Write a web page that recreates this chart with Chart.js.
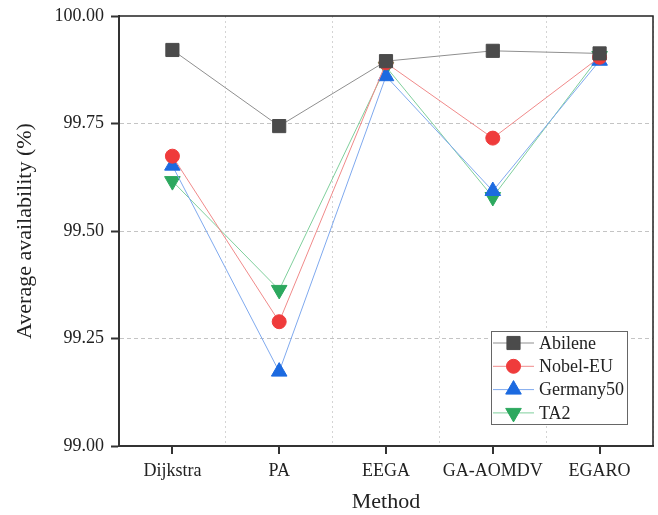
<!DOCTYPE html>
<html>
<head>
<meta charset="utf-8">
<script src="https://cdn.jsdelivr.net/npm/chart.js@4/dist/chart.umd.min.js"></script>
<style>
  html, body { margin: 0; padding: 0; background: #fff; }
  #wrap { width: 658px; height: 515px; }
</style>
</head>
<body>
<div id="wrap"><canvas id="grafico"></canvas></div>
<script>
// Datos
const metodos = ['Dijkstra', 'PA', 'EEGA', 'GA-AOMDV', 'EGARO'];
const abilene = [99.921, 99.744, 99.895, 99.919, 99.913];
const nobelEU = [99.674, 99.289, 99.891, 99.716, 99.904];
const germany50 = [99.652, 99.173, 99.860, 99.593, 99.896];
const ta2 = [99.616, 99.363, 99.882, 99.579, 99.907];
const ticksY = [99.00, 99.25, 99.50, 99.75, 100.00];

const fuente = '"Liberation Serif", "Times New Roman", serif';

// Marcas de eje X en el centro de cada categoría
const marcasX = {
  id: 'marcasX',
  afterDraw(chart) {
    const ctx = chart.ctx;
    const x = chart.scales.x;
    const area = chart.chartArea;
    ctx.save();
    ctx.strokeStyle = '#333';
    ctx.lineWidth = 2;
    metodos.forEach((m, i) => {
      const px = Math.round(x.getPixelForValue(i));
      ctx.beginPath();
      ctx.moveTo(px, area.bottom);
      ctx.lineTo(px, area.bottom + 8);
      ctx.stroke();
    });
    // marco superior y derecho
    ctx.strokeStyle = '#222';
    ctx.lineWidth = 1.5;
    ctx.beginPath();
    ctx.moveTo(area.left, area.top);
    ctx.lineTo(area.right, area.top);
    ctx.lineTo(area.right, area.bottom);
    ctx.stroke();
    ctx.restore();
  }
};

// Leyenda con línea y marcador
const leyenda = {
  id: 'leyenda',
  afterDraw(chart) {
    const ctx = chart.ctx;
    const caja = { x: 491, y: 331, w: 136, h: 93 };
    ctx.save();
    ctx.fillStyle = '#fff';
    ctx.fillRect(caja.x, caja.y, caja.w, caja.h);
    ctx.strokeStyle = '#666';
    ctx.lineWidth = 1;
    ctx.strokeRect(caja.x + 0.5, caja.y + 0.5, caja.w, caja.h);
    chart.data.datasets.forEach((ds, i) => {
      const cy = caja.y + 12 + i * 23.3;
      ctx.strokeStyle = ds.borderColor;
      ctx.lineWidth = 1;
      ctx.beginPath();
      ctx.moveTo(caja.x + 2, cy);
      ctx.lineTo(caja.x + 43, cy);
      ctx.stroke();
      ctx.fillStyle = ds.pointBackgroundColor;
      ctx.strokeStyle = ds.pointBorderColor;
      ctx.lineWidth = ds.pointBorderWidth;
      Chart.helpers.drawPoint(ctx, {
        pointStyle: ds.pointStyle,
        rotation: ds.pointRotation || 0,
        radius: ds.pointRadius,
        borderWidth: ds.pointBorderWidth
      }, caja.x + 22.5, cy);
      ctx.fillStyle = '#222';
      ctx.font = '18px ' + fuente;
      ctx.textBaseline = 'middle';
      ctx.fillText(ds.label, caja.x + 48, cy + 1);
    });
    ctx.restore();
  }
};

function serie(label, datos, linea, relleno, estilo, radio, rot) {
  return {
    label: label,
    data: datos,
    borderColor: linea,
    borderWidth: 1,
    pointBackgroundColor: relleno,
    pointBorderColor: relleno,
    pointBorderWidth: 1,
    pointStyle: estilo,
    pointRadius: radio,
    pointHoverRadius: radio,
    pointRotation: rot,
    tension: 0,
    clip: false
  };
}

const ctx = document.getElementById('grafico').getContext('2d');
new Chart(ctx, {
  type: 'line',
  data: {
    labels: metodos,
    datasets: [
      serie('Abilene', abilene, '#8f8f8f', '#4b4b4b', 'rect', 9.3, 0),
      serie('Nobel-EU', nobelEU, '#f08a8a', '#ef3b3b', 'circle', 7, 0),
      serie('Germany50', germany50, '#7fa9ee', '#1c6ae0', 'triangle', 9, 0),
      serie('TA2', ta2, '#7fcf9c', '#2ca85e', 'triangle', 9, 180)
    ]
  },
  options: {
    responsive: true,
    maintainAspectRatio: false,
    animation: false,
    layout: { autoPadding: false, padding: { top: 16, right: 5, left: 0, bottom: 0 } },
    plugins: {
      legend: { display: false },
      tooltip: { enabled: false }
    },
    scales: {
      x: {
        offset: true,
        afterFit: (s) => { s.height = 69; s.paddingLeft = 0; s.paddingRight = 0; },
        grid: {
          offset: true,
          drawTicks: false,
          color: '#d4d4d4',
          lineWidth: 1
        },
        border: { display: true, color: '#333', width: 2, dash: [2, 3] },
        ticks: {
          color: '#222',
          padding: 14,
          maxRotation: 0,
          minRotation: 0,
          autoSkip: false,
          font: { family: fuente, size: 18 }
        },
        title: {
          display: true,
          text: 'Method',
          color: '#222',
          padding: { top: 0, bottom: 0 },
          font: { family: fuente, size: 22 }
        }
      },
      y: {
        min: 99,
        max: 100,
        afterFit: (s) => { s.width = 119; s.paddingTop = 0; s.paddingBottom = 0; },
        afterBuildTicks: (s) => { s.ticks = ticksY.map(v => ({ value: v })); },
        grid: {
          color: (c) => (c.tick && (c.tick.value === 99 || c.tick.value === 100)) ? 'rgba(0,0,0,0)' : '#c4c4c4',
          lineWidth: 1,
          tickColor: '#333',
          tickWidth: 2,
          tickLength: 8
        },
        border: { display: true, color: '#333', width: 2, dash: [4, 3] },
        ticks: {
          color: '#222',
          padding: 7,
          font: { family: fuente, size: 18 },
          callback: (v) => Number(v).toFixed(2)
        },
        title: {
          display: true,
          text: 'Average availability (%)',
          color: '#222',
          padding: { top: 12, bottom: 0 },
          font: { family: fuente, size: 22 }
        }
      }
    }
  },
  plugins: [marcasX, leyenda]
});
</script>
</body>
</html>
